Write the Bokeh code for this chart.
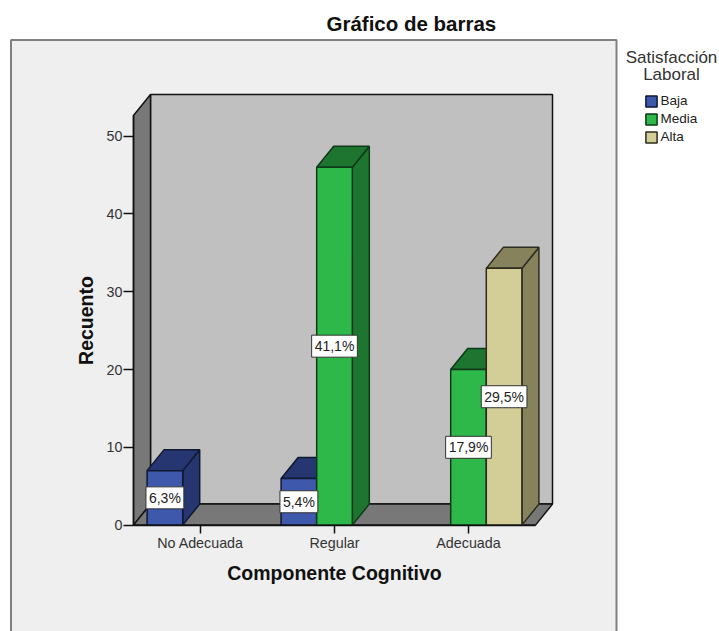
from bokeh.plotting import figure
from bokeh.models import (ColumnDataSource, FixedTicker, Legend, LegendItem,
                          LinearAxis, Range1d, Title)
from bokeh.core.properties import value
from bokeh.embed import file_html
from bokeh.resources import INLINE

categories = ["No Adecuada", "Regular", "Adecuada"]
baja = [7, 6, 0]
media = [0, 46, 20]
alta = [0, 0, 33]
baja_pct = ["6,3%", "5,4%", ""]
media_pct = ["", "41,1%", "17,9%"]
alta_pct = ["", "", "29,5%"]
y_ticks = [0, 10, 20, 30, 40, 50]

# calibration: window pixels per unit
PX_X, PX_Y = 134.0, 7.78
X0_PX, Y0_PX = 200.0, 524.6
W, H = 719, 631
ORIGIN = 0
TITLE_H = 36
FONT = value("Liberation Sans")


def xd(px):
    return (px - X0_PX) / PX_X


def yd(py):
    return (Y0_PX - py) / PX_Y


p = figure(width=W, height=H, output_backend="svg", toolbar_location=None,
           x_range=Range1d(xd(ORIGIN), xd(ORIGIN + W)), y_range=Range1d(yd(ORIGIN + H), yd(ORIGIN + TITLE_H)),
           min_border=0, min_border_left=0, min_border_right=0, min_border_top=TITLE_H, min_border_bottom=0,
           x_axis_type=None, y_axis_type=None)
p.grid.visible = False
p.outline_line_color = None
p.background_fill_color = "white"
p.border_fill_color = "white"

p.title = Title(text="Gráfico de barras", align="left", offset=326, standoff=4,
                text_font="Liberation Sans", text_font_size="20.5px", text_font_style="bold",
                text_color="#111111")

# outer panel (runs off the page at the bottom, as in the reference)
p.quad(left=xd(10.5), right=xd(616), top=yd(39.5), bottom=yd(700),
       fill_color="#EFEFEF", line_color="#808080", line_width=2)

# 3D box
XL, XR = -0.5, 2.5
DX, DY = 17 / PX_X, 21 / PX_Y
TOP = 52.65
LINE = "#111111"
p.patch([XL + DX, XR + DX, XR + DX, XL + DX], [DY, DY, TOP + DY, TOP + DY],
        fill_color="#C0C0C0", line_color=LINE, line_width=1.5)
p.patch([XL, XL + DX, XL + DX, XL], [0, DY, TOP + DY, TOP],
        fill_color="#787878", line_color=LINE, line_width=1.5)
p.patch([XL, XR, XR + DX, XL + DX], [0, 0, DY, DY],
        fill_color="#787878", line_color=LINE, line_width=1.5)

BAR_W = 35.6 / PX_X
series = [
    ("Baja", baja, baja_pct, -1, "#3E58AC", "#263670", "#101830"),
    ("Media", media, media_pct, 0, "#2EB84A", "#1D7530", "#0E3A18"),
    ("Alta", alta, alta_pct, 1, "#D3CE97", "#85825C", "#2C2B1E"),
]

labels = {"x": [], "y": [], "t": []}
renderers = {}
for ci in range(len(categories)):
    for name, vals, pcts, off, face, side, edge in series:
        v = vals[ci]
        if v <= 0:
            continue
        x0 = ci + off * BAR_W - BAR_W / 2
        x1 = x0 + BAR_W
        # side and top faces are drawn first, the front last
        p.patch([x1, x1 + DX, x1 + DX, x1], [0, DY, v + DY, v],
                fill_color=side, line_color=edge, line_width=1.5)
        p.patch([x0, x1, x1 + DX, x0 + DX], [v, v, v + DY, v + DY],
                fill_color=side, line_color=edge, line_width=1.5)
        r = p.quad(left=[x0], right=[x1], bottom=[0], top=[v],
                   fill_color=face, line_color=edge, line_width=1.5)
        renderers.setdefault(name, r)
        labels["x"].append(ci + off * BAR_W)
        labels["y"].append(v / 2)
        labels["t"].append(pcts[ci])

p.text(x="x", y="y", text="t", source=ColumnDataSource(labels),
       text_align="center", text_baseline="middle",
       text_font=FONT, text_font_size="14px", text_color="#222222",
       background_fill_color="white", border_line_color="#333333",
       border_line_width=1, padding=3)

# axes sit inside the full-page frame, at fixed data positions
yax = LinearAxis(ticker=FixedTicker(ticks=y_ticks), fixed_location=XL, bounds=(0, TOP),
                 axis_label="Recuento", axis_label_standoff=7,
                 axis_label_text_font="Liberation Sans", axis_label_text_font_size="19.5px",
                 axis_label_text_font_style="bold", axis_label_text_color="#111111",
                 major_label_text_font="Liberation Sans", major_label_text_font_size="14.3px",
                 major_label_text_color="#333333", major_label_standoff=1,
                 major_tick_in=0, major_tick_out=10, minor_tick_line_color=None,
                 major_tick_line_color=LINE, major_tick_line_width=1.5,
                 axis_line_color=LINE, axis_line_width=1.5)
p.add_layout(yax, "left")

xax = LinearAxis(ticker=FixedTicker(ticks=list(range(len(categories)))), fixed_location=0,
                 bounds=(XL, XR + 0.0),
                 major_label_overrides={i: c for i, c in enumerate(categories)},
                 axis_label="Componente Cognitivo", axis_label_standoff=7,
                 axis_label_text_font="Liberation Sans", axis_label_text_font_size="19.5px",
                 axis_label_text_font_style="bold", axis_label_text_color="#111111",
                 major_label_text_font="Liberation Sans", major_label_text_font_size="14.3px",
                 major_label_text_color="#333333", major_label_standoff=2,
                 major_tick_in=0, major_tick_out=8, minor_tick_line_color=None,
                 major_tick_line_color=LINE, major_tick_line_width=1.5,
                 axis_line_color=LINE, axis_line_width=1.5)
p.add_layout(xax, "below")

# legend
p.text(x=[xd(671), xd(671)], y=[yd(57), yd(73.5)], text=["Satisfacción", "Laboral"],
       text_font=FONT, text_font_size="17px", text_color="#333333",
       text_align="center", text_baseline="middle")
legend = Legend(items=[LegendItem(label=n, renderers=[renderers[n]]) for n, *_ in series],
                location=(643.5, H - TITLE_H - 108), orientation="vertical",
                background_fill_alpha=0, border_line_color=None, margin=0, padding=0,
                glyph_width=14, glyph_height=14, spacing=3, label_height=13, label_standoff=3,
                label_text_font="Liberation Sans", label_text_font_size="13.5px",
                label_text_color="#222222")
p.add_layout(legend)

open("out.html", "w").write(file_html(p, INLINE))
